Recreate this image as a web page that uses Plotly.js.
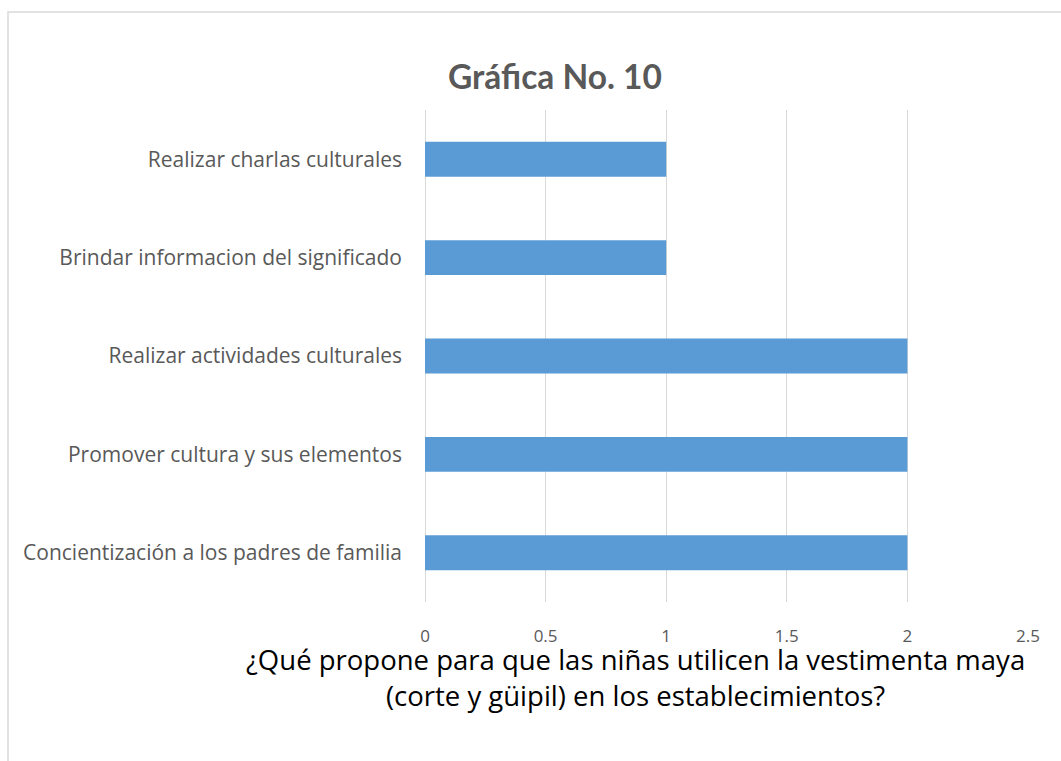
<!DOCTYPE html>
<html>
<head>
<meta charset="utf-8">
<script src="https://cdn.plot.ly/plotly-3.0.1.min.js"></script>
<style>html,body{margin:0;padding:0;background:#fff;}#chart{width:1061px;height:761px;}</style>
</head>
<body>
<div id="chart"></div>
<script>
var categories = [
  "Concientización a los padres de familia",
  "Promover cultura y sus elementos",
  "Realizar actividades culturales",
  "Brindar informacion del significado",
  "Realizar charlas culturales"
];
var values = [2, 2, 2, 1, 1];
var xTickValues = [0, 0.5, 1, 1.5, 2, 2.5];
var xTickLabels = ["0", "0.5", "1", "1.5", "2", "2.5"];
var chartTitle = "Gráfica No. 10";
var axisTitle = "¿Qué propone para que las niñas utilicen la vestimenta maya<br>(corte y güipil) en los establecimientos?";

var W = 1061, H = 761;
var L = 425, R = 1028, T = 110, B = 602;
function px(x){ return (x - L) / (R - L); }
function py(y){ return (B - y) / (B - T); }

var trace = {
  type: 'bar',
  orientation: 'h',
  x: values,
  y: categories,
  marker: { color: '#5B9BD5' },
  hoverinfo: 'x+y'
};

var layout = {
  width: W, height: H,
  margin: { l: L, r: W - R, t: T, b: H - B, pad: 0 },
  paper_bgcolor: '#ffffff',
  plot_bgcolor: '#ffffff',
  showlegend: false,
  bargap: 0.645,
  font: { family: '"Open Sans", Lato, sans-serif', color: '#595959' },
  title: {
    text: '<b>' + chartTitle + '</b>',
    font: { family: 'Lato, "Open Sans", sans-serif', size: 33.5, color: '#595959' },
    xref: 'paper', x: px(555), xanchor: 'center',
    yref: 'container', y: 1 - 77 / H, yanchor: 'middle'
  },
  xaxis: {
    range: [0, 2.5],
    tickvals: xTickValues,
    ticktext: xTickLabels,
    showgrid: true,
    gridcolor: '#D9D9D9',
    gridwidth: 1,
    zeroline: true,
    zerolinecolor: '#D9D9D9',
    zerolinewidth: 1,
    showline: false,
    ticks: '',
    ticklabelstandoff: 22,
    tickfont: { family: '"Open Sans", Lato, sans-serif', size: 17, color: '#595959' },
    fixedrange: true
  },
  yaxis: {
    type: 'category',
    categoryorder: 'array',
    categoryarray: categories,
    showgrid: false,
    zeroline: false,
    showline: false,
    ticks: '',
    ticklabelstandoff: 22,
    tickfont: { family: '"Open Sans", Lato, sans-serif', size: 21, color: '#595959' },
    fixedrange: true
  },
  annotations: [{
    xref: 'paper', yref: 'paper',
    x: px(635), y: py(677),
    xanchor: 'center', yanchor: 'middle',
    text: axisTitle,
    showarrow: false,
    align: 'center',
    font: { family: '"Open Sans", Lato, sans-serif', size: 27.5, color: '#000000' }
  }],
  shapes: [{
    type: 'rect', xref: 'paper', yref: 'paper', layer: 'below',
    x0: px(8), x1: px(1080), y0: py(780), y1: py(12),
    line: { color: '#D9D9D9', width: 1.5 },
    fillcolor: 'rgba(0,0,0,0)'
  }]
};

Plotly.newPlot('chart', [trace], layout, { displayModeBar: false, staticPlot: true });
</script>
</body>
</html>
